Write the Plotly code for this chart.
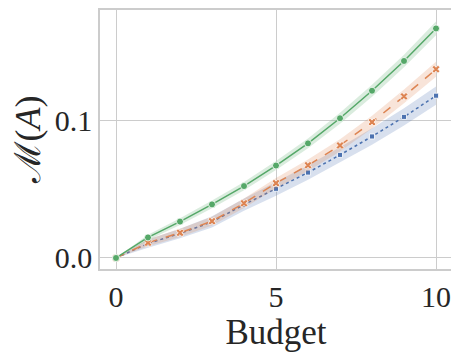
import plotly.graph_objects as go

budget = [0, 1, 2, 3, 4, 5, 6, 7, 8, 9, 10]

# mean values
green_y = [0.0, 0.0149, 0.0264, 0.0389, 0.0522, 0.0671, 0.0832, 0.1014, 0.1214, 0.1430, 0.1666]
orange_y = [0.0, 0.0111, 0.0183, 0.0267, 0.0397, 0.0543, 0.0673, 0.0817, 0.0986, 0.1173, 0.1370]
blue_y = [0.0, 0.0105, 0.0178, 0.0262, 0.0387, 0.0502, 0.0620, 0.0748, 0.0882, 0.1024, 0.1178]

# half widths of the shaded bands
green_err = [0.0, 0.0020, 0.0025, 0.0028, 0.0030, 0.0033, 0.0036, 0.0040, 0.0043, 0.0046, 0.0050]
orange_err = [0.0, 0.0025, 0.0030, 0.0032, 0.0035, 0.0038, 0.0041, 0.0044, 0.0047, 0.0050, 0.0054]
blue_err = [0.0, 0.0030, 0.0035, 0.0040, 0.0045, 0.0050, 0.0053, 0.0056, 0.0060, 0.0063, 0.0066]

series = [
    ("blue", blue_y, blue_err, "#4C72B0", "rgba(76,114,176,0.22)", "dot", "square", 5),
    ("orange", orange_y, orange_err, "#DD8452", "rgba(221,132,82,0.22)", "dash", "x", 7),
    ("green", green_y, green_err, "#55A868", "rgba(85,168,104,0.22)", "solid", "circle", 7),
]

fig = go.Figure()
for name, ys, err, col, fill, dash, sym, size in series:
    upper = [a + b for a, b in zip(ys, err)]
    lower = [a - b for a, b in zip(ys, err)]
    fig.add_trace(go.Scatter(x=budget + budget[::-1], y=upper + lower[::-1],
                             fill="toself", fillcolor=fill, line=dict(width=0),
                             hoverinfo="skip", showlegend=False))
    fig.add_trace(go.Scatter(x=budget, y=ys, mode="lines+markers", name=name,
                             line=dict(color=col, width=1.5, dash=dash),
                             marker=dict(symbol=sym, size=size, color=col,
                                         line=dict(color="white", width=0.8)),
                             showlegend=False))

# page body has an 8px margin, so the figure is a bit smaller than the window
font_family = "Liberation Serif"
fig.update_layout(
    width=451, height=347,
    margin=dict(l=92, r=7, t=0, b=86),
    paper_bgcolor="white", plot_bgcolor="white",
    font=dict(family=font_family, color="#262626"),
    xaxis=dict(range=[-0.5, 10.5], tickvals=[0, 5, 10], ticktext=["0", "5", "10"],
               showgrid=True, gridcolor="#cccccc", gridwidth=1.2,
               showline=True, linecolor="#cccccc", linewidth=1.5, mirror=True,
               zeroline=False, tickfont=dict(size=30), ticks="",
               title=dict(text="Budget", font=dict(size=35), standoff=0)),
    yaxis=dict(range=[-0.008, 0.180], tickvals=[0.0, 0.1], ticktext=["0.0", "0.1"],
               showgrid=True, gridcolor="#cccccc", gridwidth=1.2,
               showline=True, linecolor="#cccccc", linewidth=1.5, mirror=True,
               zeroline=False, tickfont=dict(size=30), ticks="",
               title=dict(text="ℳ(<i>A</i>)", font=dict(size=36), standoff=9)),
)

fig.write_html("out.html")
